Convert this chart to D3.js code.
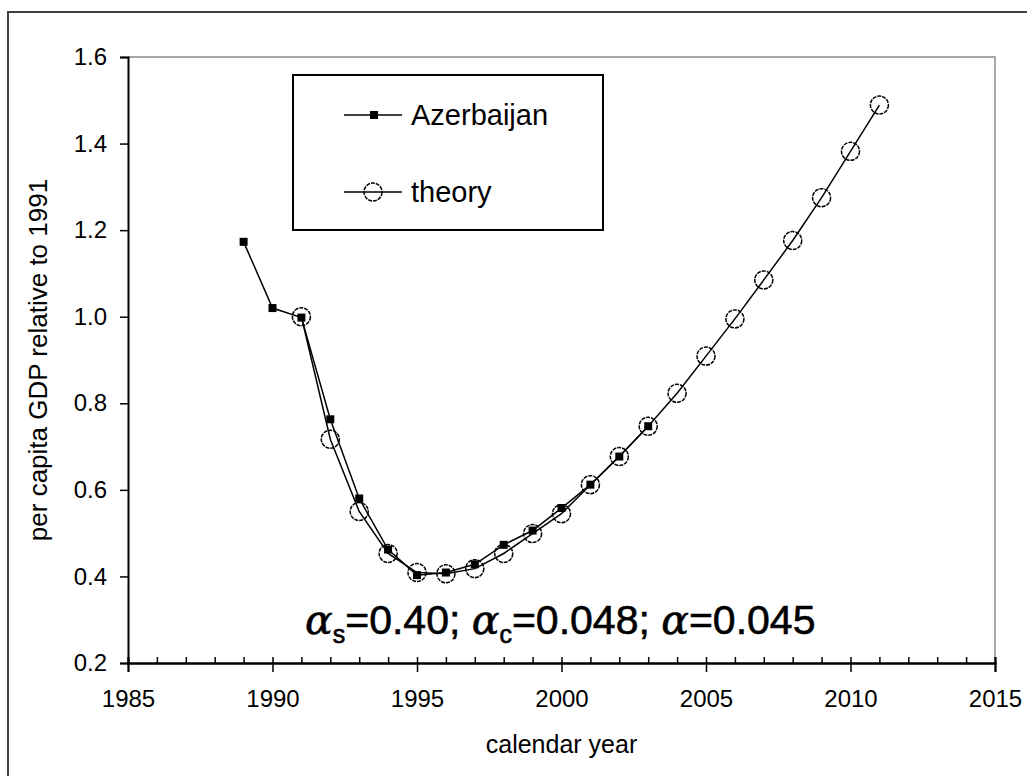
<!DOCTYPE html>
<html>
<head>
<meta charset="utf-8">
<script src="https://cdn.jsdelivr.net/npm/d3@7"></script>
<style>
  body { margin: 0; background: #fff; }
  text { font-family: "Liberation Sans", Arial, sans-serif; fill: #000; }
</style>
</head>
<body>
<svg id="chart" width="1027" height="776"></svg>
<script>
// data
const azYears = [1989, 1990, 1991, 1992, 1993, 1994, 1995, 1996, 1997, 1998, 1999, 2000, 2001, 2002, 2003]
const azValues = [1.173, 1.02, 0.998, 0.763, 0.58, 0.462, 0.403, 0.409, 0.428, 0.473, 0.506, 0.558, 0.612, 0.677, 0.747]
const thYears = [1991, 1992, 1993, 1994, 1995, 1996, 1997, 1998, 1999, 2000, 2001, 2002, 2003, 2004, 2005, 2006, 2007, 2008, 2009, 2010, 2011]
const thValues = [1.0, 0.717, 0.55, 0.453, 0.409, 0.406, 0.418, 0.453, 0.499, 0.545, 0.612, 0.677, 0.747, 0.823, 0.909, 0.995, 1.085, 1.176, 1.275, 1.382, 1.489]
const xMajorTicks = [1985, 1990, 1995, 2000, 2005, 2010, 2015]
const xMinorTicks = d3.range(1985, 2016)
const yTicks = [0.2, 0.4, 0.6, 0.8, 1.0, 1.2, 1.4, 1.6]

const svg = d3.select('#chart')
const plot = { left: 128, right: 995, top: 57, bottom: 663 }

const x = d3.scaleLinear().domain([1985, 2015]).range([plot.left, plot.right])
const y = d3.scaleLinear().domain([0.2, 1.6]).range([plot.bottom, plot.top])

// outer chart frame (runs off the right and bottom edges)
svg.append('rect')
    .attr('x', 8).attr('y', 12)
    .attr('width', 1040).attr('height', 790)
    .attr('fill', 'none')
    .attr('stroke', '#404040')
    .attr('stroke-width', 2)

// plot area border (gray, top and right)
svg.append('path')
    .attr('d', `M${plot.left},${plot.top}H${plot.right}V${plot.bottom}`)
    .attr('fill', 'none')
    .attr('stroke', '#a8a8a8')
    .attr('stroke-width', 2)

// x axis: minor ticks inside, major ticks outside
const xMinor = svg.append('g')
    .attr('transform', `translate(0,${plot.bottom})`)
    .call(d3.axisBottom(x).tickValues(xMinorTicks).tickSize(-6).tickFormat(''))
const xMajor = svg.append('g')
    .attr('transform', `translate(0,${plot.bottom})`)
    .call(d3.axisBottom(x).tickValues(xMajorTicks).tickSize(9).tickPadding(18).tickFormat(d3.format('d')))
xMajor.selectAll('text').style('font-size', '24px').attr('fill', '#111')

const yAxis = svg.append('g')
    .attr('transform', `translate(${plot.left},0)`)
    .call(d3.axisLeft(y).tickValues(yTicks).tickSize(8).tickPadding(13).tickFormat(d3.format('.1f')))
yAxis.selectAll('text').style('font-size', '24px').attr('fill', '#111')

for (const g of [xMinor, xMajor, yAxis]) {
    g.selectAll('path.domain').attr('stroke', '#000').attr('stroke-width', 2)
    g.selectAll('.tick line').attr('stroke', '#000').attr('stroke-width', 1.5)
}

// axis titles
svg.append('text')
    .attr('x', (plot.left + plot.right) / 2)
    .attr('y', 753)
    .attr('text-anchor', 'middle')
    .style('font-size', '25px')
    .text('calendar year')

svg.append('text')
    .attr('transform', `translate(47,${(plot.top + plot.bottom) / 2}) rotate(-90)`)
    .attr('text-anchor', 'middle')
    .style('font-size', '26px')
    .text('per capita GDP relative to 1991')

// series
const line = d3.line().x(d => x(d[0])).y(d => y(d[1]))
const azData = azYears.map((yr, i) => [yr, azValues[i]])
const thData = thYears.map((yr, i) => [yr, thValues[i]])

svg.append('path')
    .datum(azData)
    .attr('d', line)
    .attr('fill', 'none')
    .attr('stroke', '#000')
    .attr('stroke-width', 1.5)

svg.append('g').selectAll('rect')
    .data(azData)
    .join('rect')
    .attr('x', d => x(d[0]) - 4)
    .attr('y', d => y(d[1]) - 4)
    .attr('width', 8).attr('height', 8)
    .attr('fill', '#000')

svg.append('path')
    .datum(thData)
    .attr('d', line)
    .attr('fill', 'none')
    .attr('stroke', '#000')
    .attr('stroke-width', 1.5)

svg.append('g').selectAll('circle')
    .data(thData)
    .join('circle')
    .attr('cx', d => x(d[0]))
    .attr('cy', d => y(d[1]))
    .attr('r', 9)
    .attr('fill', 'none')
    .attr('stroke', '#000')
    .attr('stroke-width', 1.5)
    .attr('stroke-dasharray', '4 1')

// legend
const legend = svg.append('g')
legend.append('rect')
    .attr('x', 293).attr('y', 75)
    .attr('width', 310).attr('height', 155)
    .attr('fill', '#fff')
    .attr('stroke', '#000')
    .attr('stroke-width', 2)

const legendRows = [
    { label: 'Azerbaijan', y: 115, marker: 'square' },
    { label: 'theory', y: 192, marker: 'circle' }
]
legendRows.forEach(r => {
    legend.append('line')
        .attr('x1', 344).attr('x2', 402)
        .attr('y1', r.y).attr('y2', r.y)
        .attr('stroke', '#000').attr('stroke-width', 1.5)
    if (r.marker === 'square') {
        legend.append('rect')
            .attr('x', 370).attr('y', r.y - 4)
            .attr('width', 8).attr('height', 8)
            .attr('fill', '#000')
    } else {
        legend.append('circle')
            .attr('cx', 373).attr('cy', r.y).attr('r', 9)
            .attr('fill', 'none')
            .attr('stroke', '#000').attr('stroke-width', 1.5)
            .attr('stroke-dasharray', '4 1')
    }
    legend.append('text')
        .attr('x', 411).attr('y', r.y + 10)
        .style('font-size', '29px')
        .text(r.label)
})

// parameter annotation
const note = svg.append('text')
    .attr('x', 305).attr('y', 634)
    .style('font-size', '41px')
    .style('font-weight', 500)
    .attr('stroke', '#000')
    .attr('stroke-width', 0.6)
const greek = t => note.append('tspan')
    .style('font-family', '"DejaVu Serif", serif')
    .style('font-style', 'italic')
    .text(t)
greek('α')
note.append('tspan').attr('dy', 9).style('font-size', '25px').text('s')
note.append('tspan').attr('dy', -9).text('=0.40; ')
greek('α')
note.append('tspan').attr('dy', 9).style('font-size', '25px').text('c')
note.append('tspan').attr('dy', -9).text('=0.048; ')
greek('α')
note.append('tspan').text('=0.045')
</script>
</body>
</html>
